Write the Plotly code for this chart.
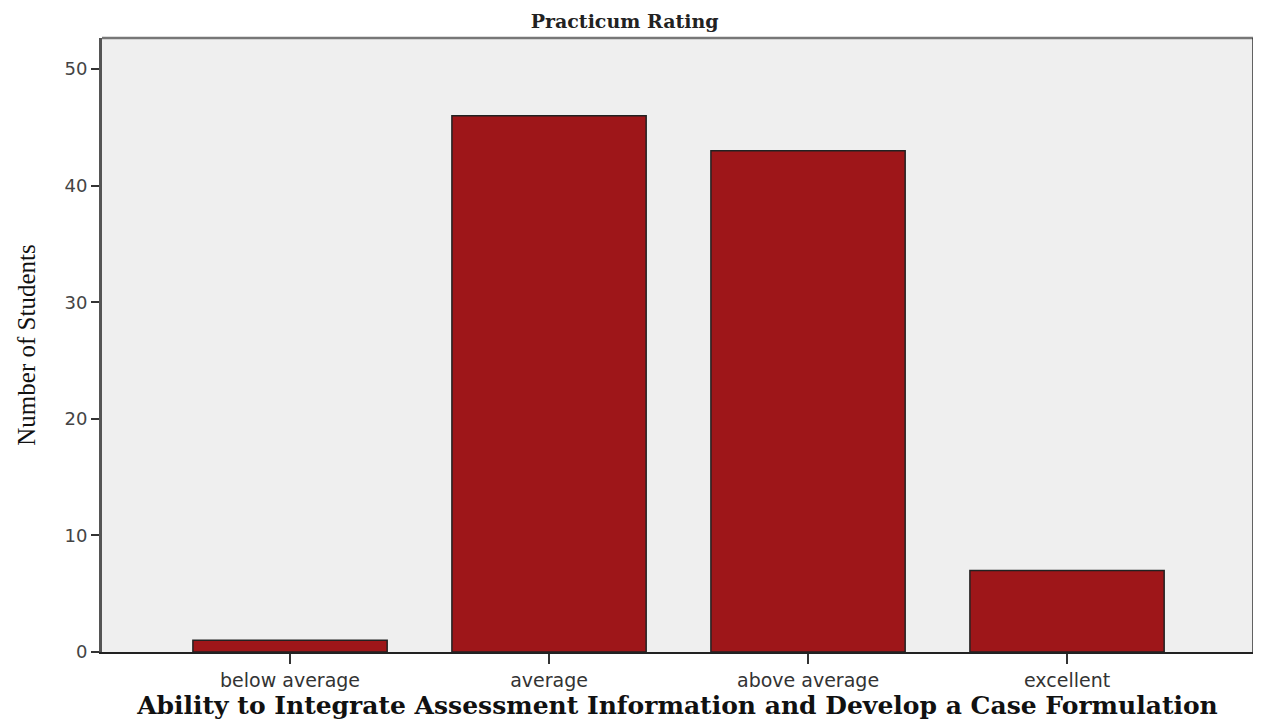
import plotly.graph_objects as go

categories = ["below average", "average", "above average", "excellent"]
counts = [1, 46, 43, 7]
y_ticks = [0, 10, 20, 30, 40, 50]

fig = go.Figure()
fig.add_trace(go.Bar(
    x=categories, y=counts, width=0.75,
    marker=dict(color="#9E1619", line=dict(color="#222222", width=1.5)),
))

# page body has an 8px margin, so layout is shifted by -8px to line up with the window
fig.update_layout(
    width=1261, height=719,
    margin=dict(l=94, r=16, t=30, b=75),
    paper_bgcolor="white", plot_bgcolor="#EFEFEF",
    showlegend=False,
    title=dict(text="<b>Practicum Rating</b>", x=0.489, xanchor="center", y=0.982, yanchor="middle",
               font=dict(family="DejaVu Serif", size=19, color="#222")),
    shapes=[
        dict(type="line", xref="paper", yref="paper", x0=0, x1=1, y0=1, y1=1,
             line=dict(color="#777777", width=2.5)),
        dict(type="line", xref="paper", yref="paper", x0=1, x1=1, y0=0, y1=1,
             line=dict(color="#333333", width=1.5)),
    ],
)
fig.update_xaxes(
    range=[-0.726, 3.718], showgrid=False, showline=True, linecolor="#222222", linewidth=1.5,
    ticks="outside", ticklen=10, tickwidth=2, tickcolor="#333",
    tickfont=dict(family="DejaVu Sans", size=19, color="#333"),
    title=dict(text="<b>Ability to Integrate Assessment Information and Develop a Case Formulation</b>",
               font=dict(family="DejaVu Serif", size=25, color="#111"), standoff=4),
)
fig.update_yaxes(
    range=[0, 52.66], showgrid=False, zeroline=False, showline=True, linecolor="#555555", linewidth=3,
    tickvals=y_ticks, ticks="outside", ticklen=8, tickwidth=2, tickcolor="#333",
    tickfont=dict(family="DejaVu Sans", size=18, color="#444"),
    title=dict(text="Number of Students", font=dict(family="Liberation Serif", size=25, color="#111"),
               standoff=22),
)
fig.write_html("out.html")
